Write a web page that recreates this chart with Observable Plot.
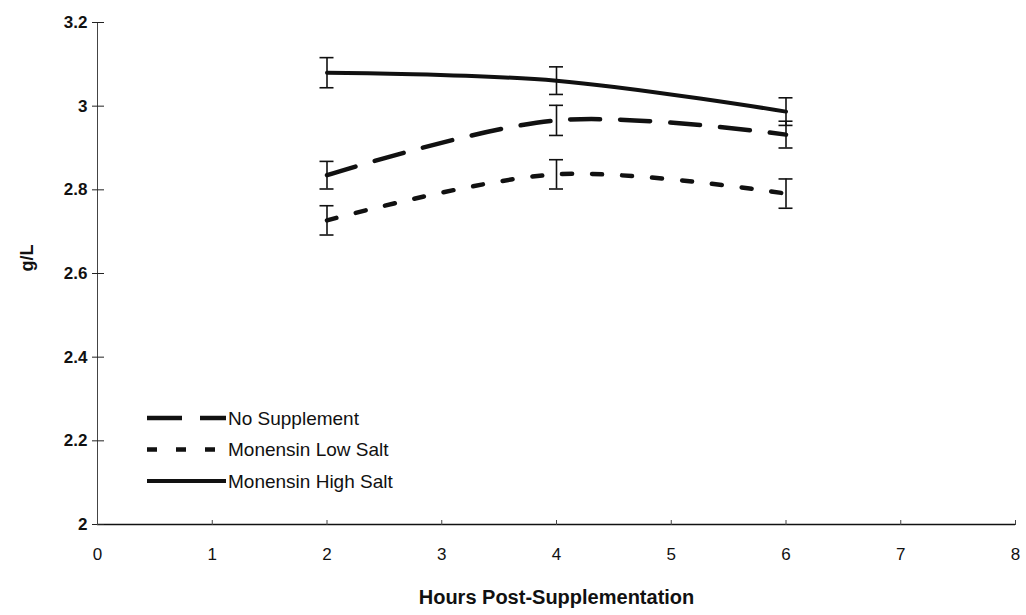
<!DOCTYPE html>
<html>
<head>
<meta charset="utf-8">
<script src="https://cdn.jsdelivr.net/npm/d3@7"></script>
<script src="https://cdn.jsdelivr.net/npm/@observablehq/plot@0.6"></script>
<style>
  html, body { margin: 0; padding: 0; background: #fff; }
  #chart { position: relative; width: 1026px; height: 615px; }
</style>
</head>
<body>
<div id="chart"></div>
<script>
// ---- data ----
const hours = [2, 4, 6];
const seriesNames = ["No Supplement", "Monensin Low Salt", "Monensin High Salt"];
const noSupplement = [2.835, 2.966, 2.932];
const noSupplementErr = [0.033, 0.036, 0.032];
const lowSalt = [2.727, 2.837, 2.791];
const lowSaltErr = [0.035, 0.035, 0.035];
const highSalt = [3.080, 3.061, 2.987];
const highSaltErr = [0.036, 0.033, 0.033];
const xTicks = [0, 1, 2, 3, 4, 5, 6, 7, 8];
const yTicks = [2, 2.2, 2.4, 2.6, 2.8, 3, 3.2];
const xLabel = "Hours Post-Supplementation";
const yLabel = "g/L";

// ---- styles ----
const dashes = {
  "No Supplement": "30,20",
  "Monensin Low Salt": "10,20",
  "Monensin High Salt": null
};
const legendDashes = {
  "No Supplement": "35,18",
  "Monensin Low Salt": "10,19",
  "Monensin High Salt": null
};
const widths = {
  "No Supplement": 4.5,
  "Monensin Low Salt": 4.5,
  "Monensin High Salt": 4
};

const valueSets = [noSupplement, lowSalt, highSalt];
const errSets = [noSupplementErr, lowSaltErr, highSaltErr];
const rows = [];
seriesNames.forEach((s, i) => {
  hours.forEach((h, j) => rows.push({series: s, x: h, y: valueSets[i][j], e: errSets[i][j]}));
});

const font = "'Liberation Sans', Arial, sans-serif";

const lineMarks = seriesNames.map(s =>
  Plot.line(rows.filter(d => d.series === s), {
    x: "x", y: "y", curve: "catmull-rom",
    stroke: "#111", strokeWidth: widths[s],
    strokeDasharray: dashes[s] || undefined
  })
);

const plot = Plot.plot({
  width: 1026,
  height: 615,
  marginLeft: 97,
  marginRight: 11,
  marginTop: 22,
  marginBottom: 91,
  style: {fontFamily: font, fontSize: "17px", color: "#111", background: "#fff"},
  x: {domain: [0, 8]},
  y: {domain: [2, 3.2]},
  marks: [
    Plot.ruleX([0], {stroke: "#444", strokeWidth: 1}),
    Plot.ruleY([2], {stroke: "#111", strokeWidth: 1.6}),
    // y axis labels
    Plot.axisY({ticks: yTicks, tickSize: 0, tickPadding: 10, tickFormat: d => String(d),
      fontWeight: "bold", fontSize: 17, label: null}),
    // y tick crosses
    Plot.axisY({ticks: yTicks, tickSize: 12, dx: 7, tickFormat: () => "", label: null, stroke: "#222"}),
    // x axis labels
    Plot.axisX({ticks: xTicks, tickSize: 0, tickPadding: 23, tickFormat: d => String(d), label: null, fontSize: 17}),
    Plot.axisX({ticks: xTicks, tickSize: 5, dy: -4, tickFormat: () => "", label: null, stroke: "#444"}),
    Plot.text([xLabel], {frameAnchor: "bottom", dy: 79, text: d => d, fontWeight: "bold", fontSize: 20}),
    Plot.text([yLabel], {frameAnchor: "left", dx: -70, dy: -2, text: d => d, rotate: -90, fontWeight: "bold", fontSize: 18}),
    ...lineMarks,
    // error bars
    Plot.ruleX(rows, {x: "x", y1: d => d.y - d.e, y2: d => d.y + d.e, stroke: "#111", strokeWidth: 1.6}),
    Plot.ruleY(rows, {y: d => d.y + d.e, x1: "x", x2: "x", insetLeft: -7, insetRight: -7, stroke: "#111", strokeWidth: 1.6}),
    Plot.ruleY(rows, {y: d => d.y - d.e, x1: "x", x2: "x", insetLeft: -7, insetRight: -7, stroke: "#111", strokeWidth: 1.6})
  ]
});

document.getElementById("chart").appendChild(plot);

// ---- legend (inside plot area) ----
const svg = d3.select(plot);
const legendX = 147, legendLineEnd = 226, legendY0 = 418, legendStep = 31.5;
const lg = svg.append("g")
  .attr("font-family", font).attr("font-size", 19).attr("fill", "#111")
  .attr("text-anchor", "start");
seriesNames.forEach((s, i) => {
  const y = legendY0 + i * legendStep;
  lg.append("line")
    .attr("x1", legendX).attr("x2", legendLineEnd)
    .attr("y1", y).attr("y2", y)
    .attr("stroke", "#111").attr("stroke-width", widths[s])
    .attr("stroke-dasharray", legendDashes[s]);
  lg.append("text")
    .attr("x", legendLineEnd + 2).attr("y", y).attr("dy", "0.35em")
    .attr("text-anchor", "start")
    .text(s);
});
</script>
</body>
</html>
